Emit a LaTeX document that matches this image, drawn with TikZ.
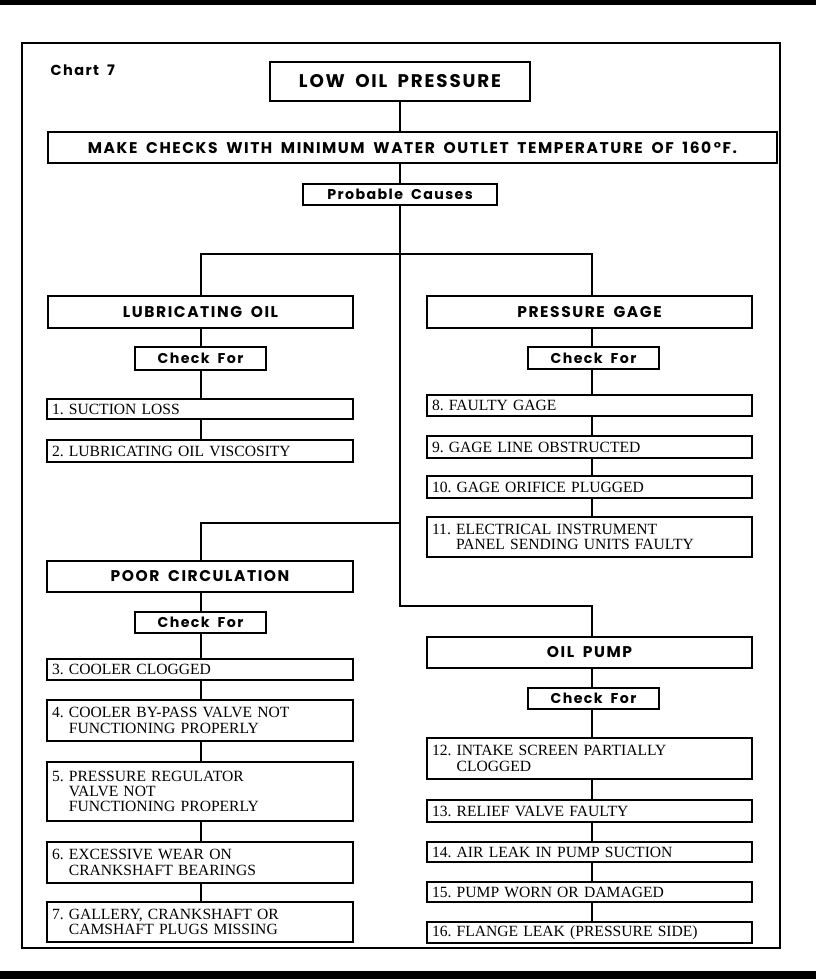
\documentclass[tikz,border=0pt]{standalone}
\usepackage{fontspec}
\setmainfont{Liberation Serif}
\newfontfamily\hd[LetterSpace=10,WordSpace=1.8]{Poppins}
\newlength\hangw
\newcommand\itm[2]{\settowidth\hangw{#1\ }#1\ #2}
\newcommand\nl{\\\hspace*{\hangw}}
\newcommand\bx[6]{\node[#6, minimum width={(#4)-(#2)}, minimum height={(#5)-(#3)}] (#1) at ({((#2)+(#4))/2},{((#3)+(#5))/2})}
\newcommand\ix[7]{\node[ibox, minimum width={(#4)-(#2)}, minimum height={(#5)-(#3)}, text width={(#4)-(#2)-10}] (#1) at ({((#2)+(#4))/2},{((#3)+(#5))/2}) {\itm{#6}{#7}};}
\tikzset{
  hbox/.style={draw, line width=1.8pt, fill=white, inner sep=0pt, font=\fontsize{15.5}{17}\selectfont\hd\bfseries},
  cbox/.style={draw, line width=1.8pt, fill=white, inner sep=0pt, font=\fontsize{14.2}{16}\selectfont\hd\bfseries},
  ibox/.style={draw, line width=1.5pt, fill=white, inner xsep=5pt, inner ysep=0pt, align=left, font=\fontsize{15.6}{15.2}\selectfont},
  conn/.style={line width=2.4pt, line join=miter},
}
\begin{document}
\begin{tikzpicture}[x=1pt,y=-1pt]
\useasboundingbox (0,0) rectangle (816,979);
\fill[black] (0,0) rectangle (816,5);
\fill[black] (0,971) rectangle (816,979);
\draw[line width=1.5pt] (22,43) rectangle (780,948);
\node[anchor=west, font=\fontsize{14.5}{16}\selectfont\hd\bfseries] (chart) at (47,70) {Chart 7};
% coordinates for column lines
\coordinate (colL) at (201,0);
\coordinate (colR) at (592,0);
\coordinate (j1) at (400,254);
\coordinate (jl) at (201,254);
\coordinate (jr) at (592,254);
\coordinate (b2) at (400,523);
\coordinate (bl2) at (201,523);
\coordinate (t2) at (400,606);
\coordinate (t3) at (592,606);
% top
\bx{low}{270}{62}{530}{101}{hbox,font=\fontsize{18.3}{20}\selectfont\hd\bfseries}{LOW OIL PRESSURE};
\bx{make}{48}{132}{777}{163}{hbox}{MAKE CHECKS WITH MINIMUM WATER OUTLET TEMPERATURE OF 160\,°F.};
\bx{prob}{303}{184}{497}{205}{cbox}{Probable Causes};
% left upper
\bx{lub}{48}{296}{353}{328}{hbox}{LUBRICATING OIL};
\bx{chk1}{135}{347}{266}{370}{cbox}{Check For};
\ix{i1}{47}{399}{353}{419}{1.}{SUCTION LOSS}
\ix{i2}{47}{440}{353}{462}{2.}{LUBRICATING OIL VISCOSITY}
% right upper
\bx{pg}{427}{296}{752}{328}{hbox}{PRESSURE GAGE};
\bx{chk2}{528}{347}{659}{369}{cbox}{Check For};
\ix{i8}{427}{395}{752}{416}{8.}{FAULTY GAGE}
\ix{i9}{427}{436}{752}{458}{9.}{GAGE LINE OBSTRUCTED}
\ix{i10}{427}{476}{752}{498}{10.}{GAGE ORIFICE PLUGGED}
\ix{i11}{427}{517}{752}{557}{11.}{ELECTRICAL INSTRUMENT\nl PANEL SENDING UNITS FAULTY}
% left lower
\bx{pc}{47}{561}{353}{592}{hbox}{POOR CIRCULATION};
\bx{chk3}{135}{612}{266}{633}{cbox}{Check For};
\ix{i3}{47}{659}{353}{680}{3.}{COOLER CLOGGED}
\ix{i4}{47}{700}{353}{741}{4.}{COOLER BY-PASS VALVE NOT\nl FUNCTIONING PROPERLY}
\ix{i5}{47}{762}{353}{821}{5.}{PRESSURE REGULATOR\nl VALVE NOT\nl FUNCTIONING PROPERLY}
\ix{i6}{47}{842}{353}{883}{6.}{EXCESSIVE WEAR ON\nl CRANKSHAFT BEARINGS}
\ix{i7}{47}{902}{353}{942}{7.}{GALLERY, CRANKSHAFT OR\nl CAMSHAFT PLUGS MISSING}
% right lower
\bx{op}{427}{637}{752}{668}{hbox}{OIL PUMP};
\bx{chk4}{528}{688}{659}{709}{cbox}{Check For};
\ix{i12}{427}{738}{752}{779}{12.}{INTAKE SCREEN PARTIALLY\nl CLOGGED}
\ix{i13}{427}{800}{752}{822}{13.}{RELIEF VALVE FAULTY}
\ix{i14}{427}{842}{752}{862}{14.}{AIR LEAK IN PUMP SUCTION}
\ix{i15}{427}{882}{752}{902}{15.}{PUMP WORN OR DAMAGED}
\ix{i16}{427}{922}{752}{943}{16.}{FLANGE LEAK (PRESSURE SIDE)}
% connectors
\draw[conn] (low.south) -- (low.south |- make.north);
\draw[conn] (low.south |- make.south) -- (low.south |- prob.north);
\draw[conn] (prob.south) -- (j1);
\draw[conn] (jl |- lub.north) -- (jl) -- (jr) -- (jr |- pg.north);
\draw[conn] (j1) -- (b2) -- (t2) -- (t3) -- (t3 |- op.north);
\draw[conn] (b2) -- (bl2) -- (bl2 |- pc.north);
\foreach \a/\b in {lub/chk1,chk1/i1,i1/i2,pc/chk3,chk3/i3,i3/i4,i4/i5,i5/i6,i6/i7}
  \draw[conn] (\a.south -| colL) -- (\b.north -| colL);
\foreach \a/\b in {pg/chk2,chk2/i8,i8/i9,i9/i10,i10/i11,op/chk4,chk4/i12,i12/i13,i13/i14,i14/i15,i15/i16}
  \draw[conn] (\a.south -| colR) -- (\b.north -| colR);
\end{tikzpicture}
\end{document}
